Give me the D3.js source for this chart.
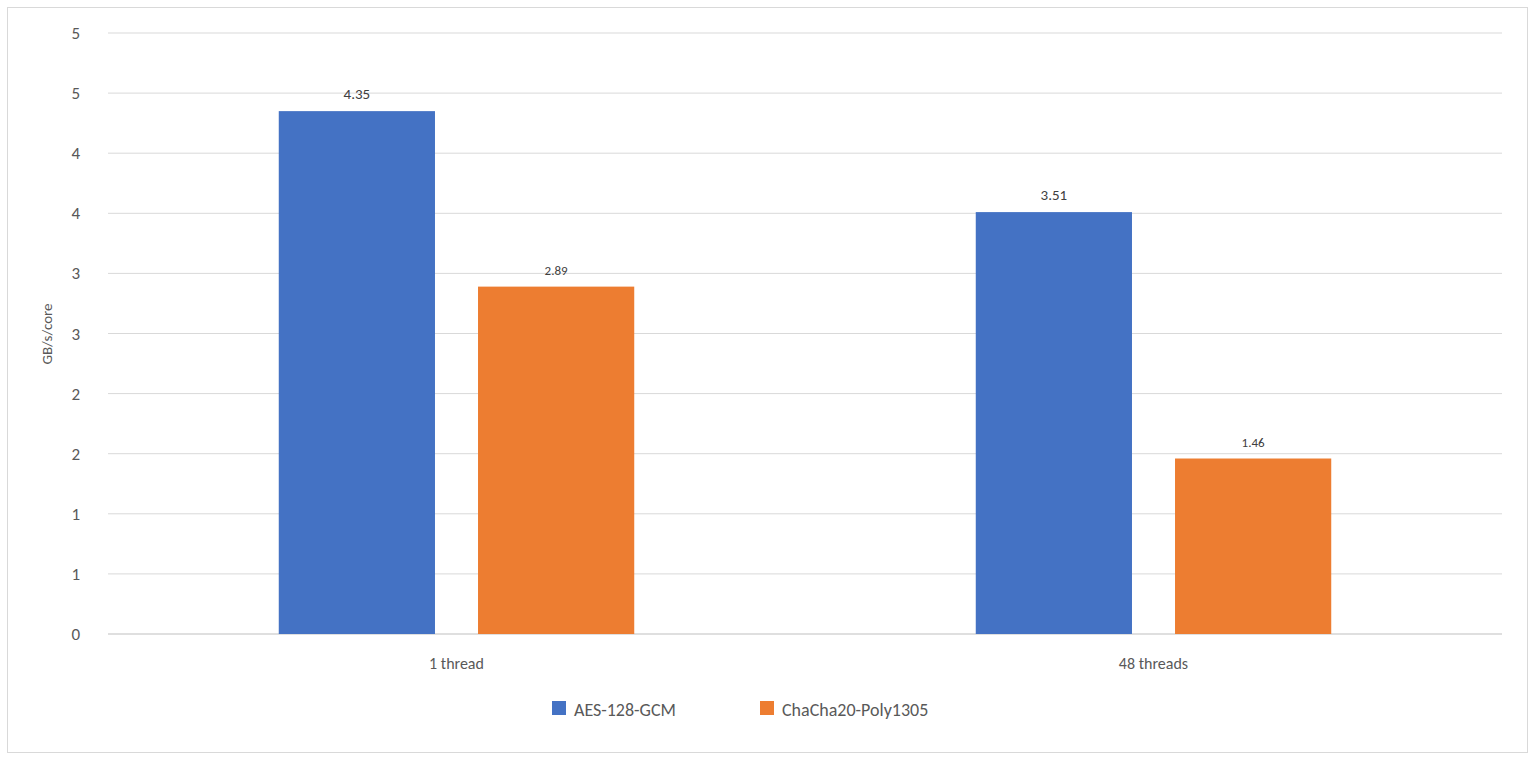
<!DOCTYPE html>
<html><head><meta charset="utf-8">
<script src="https://cdn.jsdelivr.net/npm/d3@7"></script>
<style>body{margin:0;background:#fff;font-family:Calibri,"Liberation Sans","Open Sans",sans-serif}</style>
</head><body><svg id="c" width="1536" height="766"></svg>
<script>
const categories = ["1 thread", "48 threads"];
const seriesNames = ["AES-128-GCM", "ChaCha20-Poly1305"];
const aesValues = [4.35, 3.51];
const chachaValues = [2.89, 1.46];
const tickValues = [0,0.5,1,1.5,2,2.5,3,3.5,4,4.5,5];
const tickLabels = ["0","1","1","2","2","3","3","4","4","5","5"];
const colors = ["#4472C4", "#ED7D31"];
const labelSizes = [15, 13];

const svg = d3.select("#c");
svg.append("rect").attr("x",7.5).attr("y",7.5).attr("width",1520).attr("height",745)
  .attr("fill","#fff").attr("stroke","#d9d9d9");
const L=108,R=1502,T=33,B=634;
const y = d3.scaleLinear().domain([0,5]).range([B,T]);
const x = d3.scaleBand().domain(categories).range([L,R]);
const xs = d3.scaleBand().domain(seriesNames).range([0,x.bandwidth()]).paddingInner(0.216).paddingOuter(0.857);

svg.append("g").selectAll("line").data(tickValues).join("line")
  .attr("x1",L).attr("x2",R).attr("y1",d=>y(d)).attr("y2",d=>y(d))
  .attr("stroke",(d)=>d===0?"#bfbfbf":"#d9d9d9").attr("stroke-width",1);
svg.append("g").selectAll("text").data(tickValues).join("text")
  .attr("x",80).attr("y",d=>y(d)+6).attr("text-anchor","end")
  .attr("font-size",17).attr("fill","#595959").text((d,i)=>tickLabels[i]);
svg.append("text").attr("transform","translate(52,334) rotate(-90)").attr("text-anchor","middle")
  .attr("font-size",15).attr("fill","#595959").text("GB/s/core");

const series=[aesValues,chachaValues];
series.forEach((vals,si)=>{
  const g=svg.append("g");
  g.selectAll("rect").data(vals).join("rect")
    .attr("x",(d,i)=>x(categories[i])+xs(seriesNames[si])).attr("width",xs.bandwidth())
    .attr("y",d=>y(d)).attr("height",d=>B-y(d)).attr("fill",colors[si]);
  g.selectAll("text").data(vals).join("text")
    .attr("x",(d,i)=>x(categories[i])+xs(seriesNames[si])+xs.bandwidth()/2)
    .attr("y",d=>y(d)-12).attr("text-anchor","middle")
    .attr("font-size",labelSizes[si]).attr("fill","#404040").text(d=>d.toFixed(2));
});
svg.append("g").selectAll("text").data(categories).join("text")
  .attr("x",d=>x(d)+x.bandwidth()/2).attr("y",669).attr("text-anchor","middle")
  .attr("font-size",16).attr("fill","#595959").text(d=>d);

const legX=[552,760];
seriesNames.forEach((n,i)=>{
  svg.append("rect").attr("x",legX[i]).attr("y",701).attr("width",14).attr("height",14).attr("fill",colors[i]);
  svg.append("text").attr("x",legX[i]+22).attr("y",716).attr("font-size",18).attr("fill","#595959").text(n);
});
</script></body></html>
